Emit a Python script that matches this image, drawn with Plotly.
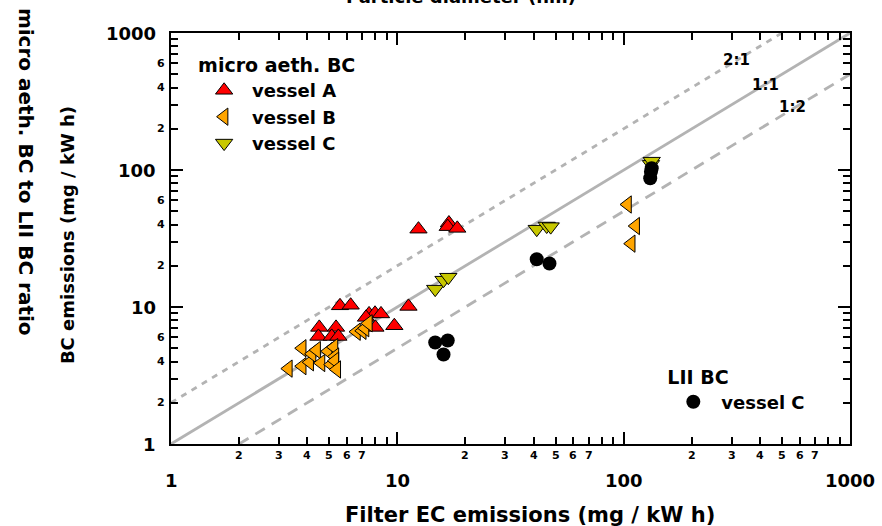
import math
import plotly.graph_objects as go

# ---- data ----
a_x = [12.4, 16.9, 16.7, 18.4, 5.58, 6.22, 11.2, 7.5, 7.97, 8.47, 7.27, 8.0, 9.7, 4.52, 5.36, 4.48, 5.13, 5.49]
a_y = [37.0, 41.0, 38.6, 37.5, 10.2, 10.3, 10.1, 8.9, 9.0, 8.9, 8.4, 7.1, 7.3, 7.1, 7.1, 6.1, 6.1, 6.1]

b_x = [3.3, 3.8, 3.8, 4.1, 4.2, 4.4, 4.6, 4.95, 5.1, 5.25, 5.3, 5.3, 5.4, 6.6, 7.0, 7.2, 7.45, 104, 113, 108]
b_y = [3.55, 3.7, 5.0, 3.95, 4.55, 4.85, 3.9, 4.75, 3.8, 5.1, 4.35, 4.05, 3.5, 6.6, 6.7, 7.0, 7.6, 56, 39, 29]

c_x = [14.7, 16.0, 16.8, 41.3, 45.7, 47.6, 132, 133]
c_y = [13.5, 15.7, 16.5, 37.0, 39.0, 38.6, 110, 116]

lii_x = [14.7, 16.7, 16.0, 41.3, 47.0, 131, 132, 133]
lii_y = [5.5, 5.7, 4.5, 22.3, 20.8, 87, 97, 103]

ratio_lines = {"1:1": 1.0, "2:1": 2.0, "1:2": 0.5}
axis_min, axis_max = 1, 1000

major_ticks = [1, 10, 100, 1000]
x_minor_labels = [2, 3, 4, 5, 6, 7]
y_minor_labels = [2, 4, 6]
decades = [1, 10, 100]

FONT = "DejaVu Sans"
LINE_GREY = "#b3b3b3"


def bold(size):
    return dict(family=FONT, size=size, color="black", weight="bold")


fig = go.Figure()

# reference lines
for name, dash in [("2:1", "6px,6px"), ("1:1", "solid"), ("1:2", "11px,8px")]:
    r = ratio_lines[name]
    xs = [max(axis_min, axis_min / r), min(axis_max, axis_max / r)]
    ys = [r * v for v in xs]
    fig.add_trace(go.Scatter(x=xs, y=ys, mode="lines", showlegend=False,
                             line=dict(color=LINE_GREY, width=2.8, dash=dash),
                             hoverinfo="skip"))

mk_line = dict(color="black", width=1)
fig.add_trace(go.Scatter(x=a_x, y=a_y, mode="markers", name="vessel A", legend="legend",
                         marker=dict(symbol="triangle-up", size=15, color="#ff0000", line=mk_line)))
fig.add_trace(go.Scatter(x=b_x, y=b_y, mode="markers", name="vessel B", legend="legend",
                         marker=dict(symbol="triangle-left", size=15, color="#ffa500", line=mk_line)))
fig.add_trace(go.Scatter(x=c_x, y=c_y, mode="markers", name="vessel C", legend="legend",
                         marker=dict(symbol="triangle-down", size=15, color="#c8c800", line=mk_line)))
fig.add_trace(go.Scatter(x=lii_x, y=lii_y, mode="markers", name="vessel C", legend="legend2",
                         marker=dict(symbol="circle", size=14, color="black", line=dict(width=0))))

minor_vals = [d * k for d in decades for k in range(2, 10)]
axis_common = dict(type="log", range=[math.log10(axis_min), math.log10(axis_max)],
                   showgrid=False, zeroline=False, showline=True, linecolor="black",
                   linewidth=2, mirror="ticks", ticks="inside", ticklen=12, tickwidth=1.5,
                   tickcolor="black", tickvals=major_ticks, showticklabels=False,
                   minor=dict(tickvals=minor_vals, ticks="inside", ticklen=7,
                              tickwidth=1.5, tickcolor="black"))
fig.update_layout(xaxis=axis_common, yaxis=axis_common)

ann = []
# x tick labels
for v in major_ticks:
    ann.append(dict(x=math.log10(v), y=-0.09, xref="x", yref="paper", text=str(v),
                    showarrow=False, font=bold(18), xanchor="center", yanchor="middle"))
for d in decades:
    for k in x_minor_labels:
        ann.append(dict(x=math.log10(d * k), y=-0.029, xref="x", yref="paper", text=str(k),
                        showarrow=False, font=bold(11), xanchor="center", yanchor="middle"))
# y tick labels
for v in major_ticks:
    ann.append(dict(x=-0.019, y=math.log10(v), xref="paper", yref="y", text=str(v),
                    showarrow=False, font=bold(18), xanchor="right", yanchor="middle"))
for d in decades:
    for k in y_minor_labels:
        ann.append(dict(x=-0.006, y=math.log10(d * k), xref="paper", yref="y", text=str(k),
                        showarrow=False, font=bold(11), xanchor="right", yanchor="middle"))

# line labels
for txt, lx, ly in [("2:1", 314, 635), ("1:1", 422, 417), ("1:2", 555, 288)]:
    ann.append(dict(x=math.log10(lx), y=math.log10(ly), xref="x", yref="y", text=txt,
                    showarrow=False, font=bold(15), xanchor="center", yanchor="middle"))

# titles
ann.append(dict(x=0.529, y=-0.173, xref="paper", yref="paper",
                text="Filter EC emissions (mg / kW h)", showarrow=False,
                font=bold(21), xanchor="center", yanchor="middle"))
ann.append(dict(x=-0.153, y=0.5085, xref="paper", yref="paper", textangle=-90,
                text="BC emissions (mg / kW h)", showarrow=False,
                font=bold(18), xanchor="center", yanchor="middle"))
ann.append(dict(x=-0.2135, y=0.662, xref="paper", yref="paper", textangle=90,
                text="micro aeth. BC to LII BC ratio", showarrow=False,
                font=bold(20), xanchor="center", yanchor="middle"))
ann.append(dict(x=0.427, y=1.0876, xref="paper", yref="paper",
                text="Particle diameter (nm)", showarrow=False,
                font=bold(18), xanchor="center", yanchor="middle"))

fig.update_layout(
    width=882, height=526,
    margin=dict(l=171, r=32, t=33, b=82),
    paper_bgcolor="white", plot_bgcolor="white",
    annotations=ann,
    legend=dict(title=dict(text="micro aeth. BC", font=bold(19)), font=bold(18),
                x=0.037, y=0.965, xanchor="left", yanchor="top", bgcolor="rgba(0,0,0,0)",
                itemwidth=46, tracegroupgap=0),
    legend2=dict(title=dict(text="LII BC", font=bold(19)), font=bold(18),
                 x=0.728, y=0.207, xanchor="left", yanchor="top", bgcolor="rgba(0,0,0,0)",
                 itemwidth=46),
)

fig.write_html("out.html", config={"displayModeBar": False},
               post_script="document.body.style.margin='0px';")
